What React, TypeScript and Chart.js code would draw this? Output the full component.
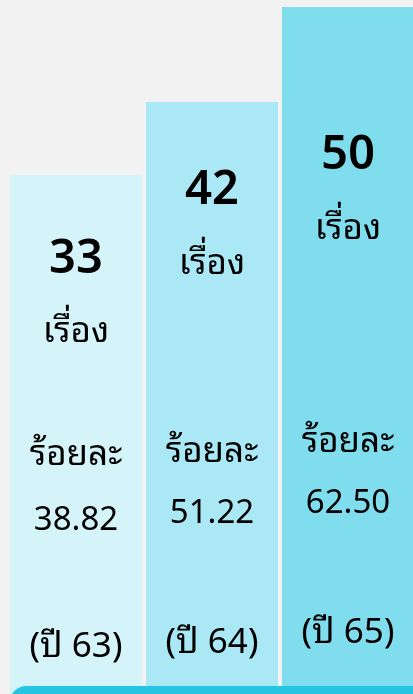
import React, { useEffect, useRef } from "react";
import { Chart, registerables } from "chart.js";

Chart.register(...registerables);

const years = ["(ปี 63)", "(ปี 64)", "(ปี 65)"];
const counts = [33, 42, 50];
const percents = ["38.82", "51.22", "62.50"];
const barLevels = [74.8, 85.3, 99.0];
const unitLabel = "เรื่อง";
const pctLabel = "ร้อยละ";

const barColors = ["#d4f4f9", "#a9e8f4", "#7fdded"];
const FONT = "'Noto Sans Thai Looped', 'Noto Sans', 'Noto Sans Thai', sans-serif";

// baselines per bar: count, unit, pctLabel, pct, year
const baselines = [
  [273, 342, 465, 530, 657],
  [204, 274, 462, 523, 653],
  [169, 239, 452, 513, 643],
];

const textPlugin = {
  id: "barTexts",
  afterDatasetsDraw(chart: any) {
    const ctx = chart.ctx;
    const meta = chart.getDatasetMeta(0);
    ctx.save();
    ctx.fillStyle = "#000";
    ctx.textAlign = "center";
    ctx.textBaseline = "alphabetic";
    meta.data.forEach((bar: any, i: number) => {
      const x = bar.x;
      const b = baselines[i];
      ctx.font = `600 47px ${FONT}`;
      ctx.fillText(String(counts[i]), x, b[0]);
      ctx.font = `35px ${FONT}`;
      ctx.fillText(unitLabel, x, b[1]);
      ctx.fillText(pctLabel, x, b[2]);
      ctx.font = `33px ${FONT}`;
      ctx.fillText(percents[i], x, b[3]);
      ctx.font = `35px ${FONT}`;
      ctx.fillText(years[i], x, b[4]);
    });
    // bottom teal band
    ctx.fillStyle = "#25c6e3";
    ctx.beginPath();
    (ctx as any).roundRect(10, 686, 420, 40, 16);
    ctx.fill();
    ctx.restore();
  },
};

export default function App() {
  const ref = useRef<HTMLCanvasElement>(null);
  useEffect(() => {
    document.body.style.margin = "0";
    const chart = new Chart(ref.current!, {
      type: "bar",
      data: {
        labels: years,
        datasets: [
          {
            data: barLevels,
            backgroundColor: barColors,
            borderWidth: 0,
            barPercentage: 132 / 136,
            categoryPercentage: 1,
          },
        ],
      },
      options: {
        responsive: false,
        animation: false,
        layout: { padding: { left: 8, right: 0, top: 0, bottom: 0 } },
        plugins: { legend: { display: false }, tooltip: { enabled: false } },
        scales: {
          x: { display: false, offset: true },
          y: { display: false, min: 0, max: 100 },
        },
      },
      plugins: [textPlugin],
    });
    return () => chart.destroy();
  }, []);
  return (
    <div
      style={{
        position: "fixed",
        left: 0,
        top: 0,
        width: 413,
        height: 694,
        overflow: "hidden",
        background: "#f2f2f2",
      }}
    >
      <canvas ref={ref} width={416} height={694} style={{ display: "block" }} />
    </div>
  );
}
